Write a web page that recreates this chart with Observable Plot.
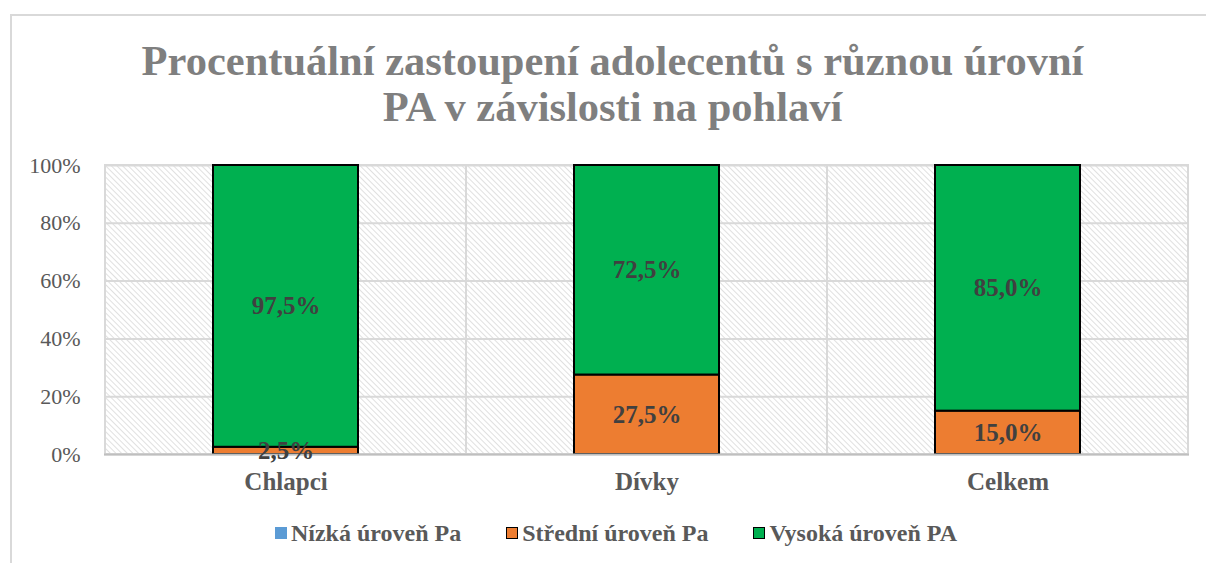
<!DOCTYPE html>
<html>
<head>
<meta charset="utf-8">
<script src="https://cdn.jsdelivr.net/npm/d3@7"></script>
<script src="https://cdn.jsdelivr.net/npm/@observablehq/plot@0.6"></script>
<style>
  html, body { margin: 0; padding: 0; background: #fff; overflow: hidden; }
  #wrap { position: relative; width: 1206px; height: 563px; font-family: "Liberation Serif", "Tinos", "DejaVu Serif", serif; }
  #border { position: absolute; left: 10px; top: 14px; width: 1210px; height: 600px; border: 2px solid #d9d9d9; box-sizing: border-box; pointer-events: none; }
  #title { height: 150px; box-sizing: border-box; padding: 38px 0 0 20px; text-align: center; font-weight: bold; font-size: 42.5px; line-height: 46px; color: #7f7f7f; width: 1205px; }
  #chart svg { display: block; }
  #legend { display: flex; justify-content: center; align-items: center; gap: 45px; font-weight: bold; font-size: 24px; color: #595959; padding-left: 26px; width: 1180px; height: 46px; }
  .item { display: flex; align-items: center; gap: 4px; }
  .sw { width: 10px; height: 10px; box-sizing: content-box; }
</style>
</head>
<body>
<div id="wrap">
  <div id="border"></div>
  <div id="title">Procentuální zastoupení adolecentů s různou úrovní<br>PA v závislosti na pohlaví</div>
  <div id="chart"></div>
  <div id="legend"></div>
</div>
<script>
const categories = ["Chlapci", "Dívky", "Celkem"];
const seriesNames = ["Nízká úroveň Pa", "Střední úroveň Pa", "Vysoká úroveň PA"];
const nizka = [0, 0, 0];
const stredni = [2.5, 27.5, 15.0];
const vysoka = [97.5, 72.5, 85.0];
const yTicks = [0, 20, 40, 60, 80, 100];
const colors = ["#5b9bd5", "#ed7d31", "#00b050"];

const seriesValues = [nizka, stredni, vysoka];
const data = [];
seriesNames.forEach((s, si) => categories.forEach((c, ci) => data.push({cat: c, series: s, value: seriesValues[si][ci]})));
const shown = data.filter(d => d.value > 0);
const fmt = v => v.toFixed(1).replace(".", ",") + "%";

const defs = () => {
  const svgNS = "http://www.w3.org/2000/svg";
  const d = document.createElementNS(svgNS, "defs");
  d.innerHTML = `<pattern id="hatch" patternUnits="userSpaceOnUse" width="4" height="4" patternTransform="rotate(45)">
      <rect width="4" height="4" fill="#ffffff"/>
      <line x1="0" y1="0" x2="4" y2="0" stroke="#d9d9d9" stroke-width="1.6"/>
    </pattern>`;
  return d;
};

const plot = Plot.plot({
  width: 1206,
  height: 360,
  marginTop: 15,
  marginBottom: 56,
  marginLeft: 104,
  marginRight: 17,
  style: {fontFamily: "'Liberation Serif', 'Tinos', 'DejaVu Serif', serif", fontSize: "22px", color: "#595959", background: "transparent"},
  x: {domain: categories, padding: 0, label: null, tickSize: 0, tickPadding: 18},
  y: {domain: [0, 100], ticks: yTicks, tickFormat: d => d + "%", label: null, tickSize: 0, tickPadding: 24},
  color: {domain: seriesNames, range: colors},
  marks: [
    defs,
    Plot.barY(categories, {x: d => d, y1: 0, y2: 100, fill: "url(#hatch)"}),
    Plot.ruleY(yTicks, {stroke: "#d9d9d9", strokeWidth: 2}),
    Plot.barY(categories, {x: d => d, y1: 0, y2: 100, fill: "none", stroke: "#d9d9d9", strokeWidth: 2}),
    Plot.barY(shown, {x: "cat", y: "value", fill: "series", order: seriesNames, stroke: "#000", strokeWidth: 2, insetLeft: 108, insetRight: 108}),
    Plot.ruleY([0], {stroke: "#bfbfbf", strokeWidth: 2}),
    Plot.text(shown, Plot.stackY({x: "cat", y: "value", z: "series", order: seriesNames, text: d => fmt(d.value), fill: "#404040", fontWeight: "bold", fontSize: 25})),
    Plot.axisX({tickSize: 0, tickPadding: 18, fontWeight: "bold", fontSize: 25, label: null})
  ]
});
document.getElementById("chart").appendChild(plot);

const legend = document.getElementById("legend");
seriesNames.forEach((s, i) => {
  const it = document.createElement("div");
  it.className = "item";
  const sw = document.createElement("span");
  sw.className = "sw";
  sw.style.background = colors[i];
  sw.style.border = i === 0 ? "1px solid " + colors[i] : "1px solid #000";
  const t = document.createElement("span");
  t.textContent = s;
  it.appendChild(sw); it.appendChild(t);
  legend.appendChild(it);
});
</script>
</body>
</html>
